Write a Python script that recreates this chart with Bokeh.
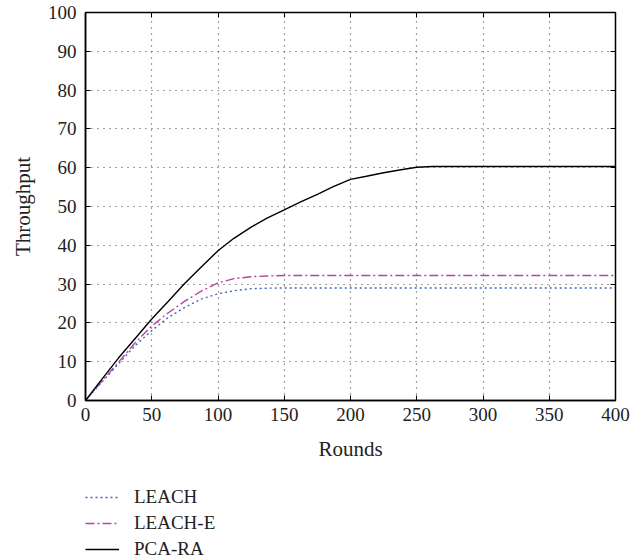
from bokeh.plotting import figure
from bokeh.layouts import column
from bokeh.models import Range1d, LinearAxis, Legend, LegendItem, FixedTicker, CustomJSTickFormatter
from bokeh.embed import file_html
from bokeh.resources import INLINE

rounds = [0, 12, 25, 37, 50, 62, 75, 87, 100, 112, 125, 137, 150, 162, 175, 187, 200, 212, 225, 237, 250, 262, 275, 300, 350, 400]
leach = [0, 4.6, 9.5, 14.0, 18.0, 21.3, 24.0, 26.1, 27.5, 28.3, 28.8, 28.95, 29.0, 29.0, 29.0, 29.0, 29.0, 29.0, 29.0, 29.0, 29.0, 29.0, 29.0, 29.0, 29.0, 29.0]
leach_e = [0, 4.8, 9.9, 14.7, 19.2, 22.5, 25.6, 28.1, 30.3, 31.4, 31.9, 32.1, 32.2, 32.2, 32.2, 32.2, 32.2, 32.2, 32.2, 32.2, 32.2, 32.2, 32.2, 32.2, 32.2, 32.2]
pca_ra = [0, 5.3, 11.0, 15.8, 21.0, 25.4, 30.2, 34.3, 38.6, 41.8, 44.7, 47.0, 49.1, 51.1, 53.1, 55.1, 57.0, 57.8, 58.7, 59.4, 60.1, 60.3, 60.3, 60.3, 60.3, 60.3]

x_ticks = [0, 50, 100, 150, 200, 250, 300, 350, 400]
y_ticks = [0, 10, 20, 30, 40, 50, 60, 70, 80, 90, 100]
series_names = ["LEACH", "LEACH-E", "PCA-RA"]

FONT = "Liberation Serif"
TICK_FS = "19px"
LABEL_FS = "21px"
LEG_FS = "19px"
TXT = "#222222"

colors = ["#4363c6", "#b8449e", "black"]
dashes = ["2 3", "9 3 2 3", "solid"]

p = figure(width=639, height=466, output_backend="svg", toolbar_location=None,
           x_range=Range1d(0, 400), y_range=Range1d(0, 100),
           min_border_left=85, min_border_right=24, min_border_top=12, min_border_bottom=66)
p.outline_line_color = "black"
p.outline_line_width = 1.5

for ax in [p.xaxis[0], p.yaxis[0]]:
    ax.major_label_text_font = FONT
    ax.major_label_text_font_size = TICK_FS
    ax.major_label_text_color = TXT
    ax.axis_label_text_font = FONT
    ax.axis_label_text_font_size = LABEL_FS
    ax.axis_label_text_font_style = "normal"
    ax.axis_label_text_color = TXT
    ax.major_tick_in = 5
    ax.major_tick_out = 0
    ax.minor_tick_in = 0
    ax.minor_tick_out = 0
    ax.axis_line_color = "black"
    ax.axis_line_width = 1.5
    ax.major_tick_line_color = "black"

p.xaxis[0].ticker = FixedTicker(ticks=x_ticks)
p.yaxis[0].ticker = FixedTicker(ticks=y_ticks)
p.xaxis[0].axis_label = "Rounds"
p.yaxis[0].axis_label = "Throughput"
p.xaxis[0].major_label_standoff = 7
p.yaxis[0].major_label_standoff = 9
p.xaxis[0].axis_label_standoff = 13
p.yaxis[0].axis_label_standoff = 10

blank = CustomJSTickFormatter(code="return ''")
ra = LinearAxis(ticker=FixedTicker(ticks=y_ticks), formatter=blank,
                major_tick_in=5, major_tick_out=0, minor_tick_in=0, minor_tick_out=0,
                axis_line_color="black", major_label_standoff=0)
ta = LinearAxis(ticker=FixedTicker(ticks=x_ticks), formatter=blank,
                major_tick_in=5, major_tick_out=0, minor_tick_in=0, minor_tick_out=0,
                axis_line_color="black", major_label_standoff=0)
p.add_layout(ra, "right")
p.add_layout(ta, "above")

for g in [p.xgrid[0], p.ygrid[0]]:
    g.grid_line_color = "#333333"
    g.grid_line_dash = "1 5"
    g.grid_line_width = 1.2
    g.grid_line_alpha = 0.9
p.xgrid[0].ticker = FixedTicker(ticks=x_ticks)
p.ygrid[0].ticker = FixedTicker(ticks=y_ticks)

for ys, c, d in zip([leach, leach_e, pca_ra], colors, dashes):
    p.line(rounds, ys, line_color=c, line_width=1.4, line_dash=d)

# Legend placed below the chart (separate strip so that it is not clipped)
lf = figure(width=639, height=94, output_backend="svg", toolbar_location=None,
            x_axis_type=None, y_axis_type=None, min_border=0,
            x_range=Range1d(1000, 1001), y_range=Range1d(0, 100))
lf.outline_line_color = None
items = []
for ys, c, d, name in zip([leach, leach_e, pca_ra], colors, dashes, series_names):
    r = lf.line(rounds, ys, line_color=c, line_width=1.4, line_dash=d)
    items.append(LegendItem(label=name, renderers=[r]))
legend = Legend(items=items, location=(0, 0), orientation="vertical",
                label_text_font=FONT, label_text_font_size=LEG_FS, label_text_color=TXT,
                glyph_width=34, glyph_height=22, label_height=22, label_standoff=15,
                spacing=4, padding=0, margin=0,
                border_line_alpha=0, background_fill_alpha=0)
lf.add_layout(legend, "center")

layout = column(p, lf, spacing=0)
open("out.html", "w").write(file_html(layout, INLINE))
